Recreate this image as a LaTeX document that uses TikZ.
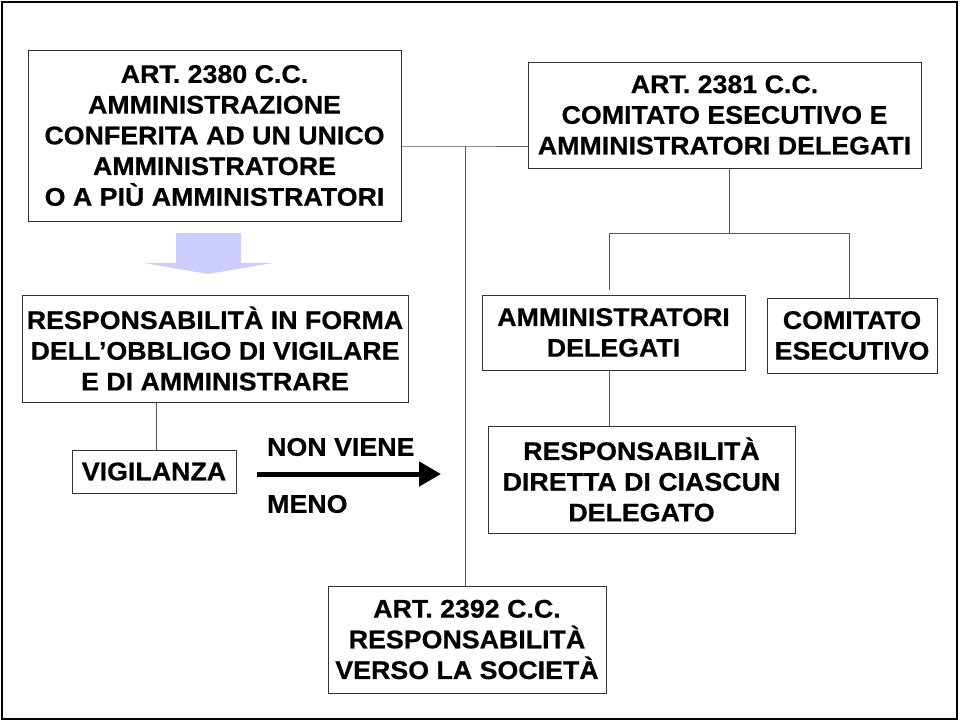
\documentclass[tikz,border=0pt]{standalone}
\usepackage{fontspec}
\setmainfont{Liberation Sans}[FakeStretch=1.05,BoldFeatures={FakeBold=0.6}]
\usetikzlibrary{arrows.meta}
\begin{document}
\begin{tikzpicture}[x=1pt,y=-1pt,
  box/.style={draw=black!80,line width=1pt,fill=white,align=center,inner sep=0pt,
    font=\fontsize{25.5}{30.7}\selectfont\bfseries},
  conn/.style={draw=black!65,line width=1pt},
  lbl/.style={inner sep=0pt,font=\fontsize{25.5}{30.7}\selectfont\bfseries},
  bigarrow/.style={line width=5pt,-{Triangle[length=22pt,width=24pt]}}]
\useasboundingbox (0,0) rectangle (960,721);
\draw[line width=2.5pt] (2,2) rectangle (957,719);
% boxes
\node[box,minimum width=373pt,minimum height=171pt] (A) at (214.5,135.5)
  {ART. 2380 C.C.\\AMMINISTRAZIONE\\CONFERITA AD UN UNICO\\AMMINISTRATORE\\O A PIÙ AMMINISTRATORI};
\node[box,minimum width=393pt,minimum height=106pt] (B) at (724.5,115)
  {ART. 2381 C.C.\\COMITATO ESECUTIVO E\\AMMINISTRATORI DELEGATI};
\node[box,minimum width=386pt,minimum height=107pt] (C) at (215,348.5)
  {RESPONSABILITÀ IN FORMA\\DELL’OBBLIGO DI VIGILARE\\E DI AMMINISTRARE};
\node[box,minimum width=164pt,minimum height=43pt] (V) at (154,471.5) {VIGILANZA};
\node[box,minimum width=263pt,minimum height=75pt] (D) at (613.5,332.5)
  {AMMINISTRATORI\\DELEGATI};
\node[box,minimum width=170pt,minimum height=75pt] (F) at (852,335.5)
  {COMITATO\\ESECUTIVO};
\node[box,minimum width=307pt,minimum height=107pt] (G) at (641.5,479.5)
  {RESPONSABILITÀ\\DIRETTA DI CIASCUN\\DELEGATO};
\node[box,minimum width=278pt,minimum height=107pt] (E) at (467,639.5)
  {ART. 2392 C.C.\\RESPONSABILITÀ\\VERSO LA SOCIETÀ};
% connectors
\coordinate (j) at (465,146);
\draw[conn] ([yshift=-10.5pt]A.east) -- (j) -- ([yshift=-31pt]B.west);
\draw[conn] (j) -- (j |- E.north);
\coordinate (bj) at (729,233);
\coordinate (dl) at (609,233);
\coordinate (fr) at (849,233);
\draw[conn] (B.south -| bj) -- (bj);
\draw[conn] (dl |- 0,290) -- (dl) -- (fr) -- (fr |- F.north);
\draw[conn] (D.south -| dl) -- (G.north -| dl);
\draw[conn] (C.south -| 156,0) -- (V.north -| 156,0);
% light blue block arrow
\fill[blue!20] (176,233) -- (241,233) -- (241,263) -- (273,263) -- (208,274)
  -- (144,263) -- (176,263) -- cycle;
% thick arrow
\coordinate (a1) at (257,474);
\coordinate (a2) at (441,474);
\draw[bigarrow] (a1) -- (a2);
\node[lbl,anchor=west] (nv) at (267,447) {NON VIENE};
\node[lbl,anchor=west] (me) at (267,504) {MENO};
\end{tikzpicture}
\end{document}
